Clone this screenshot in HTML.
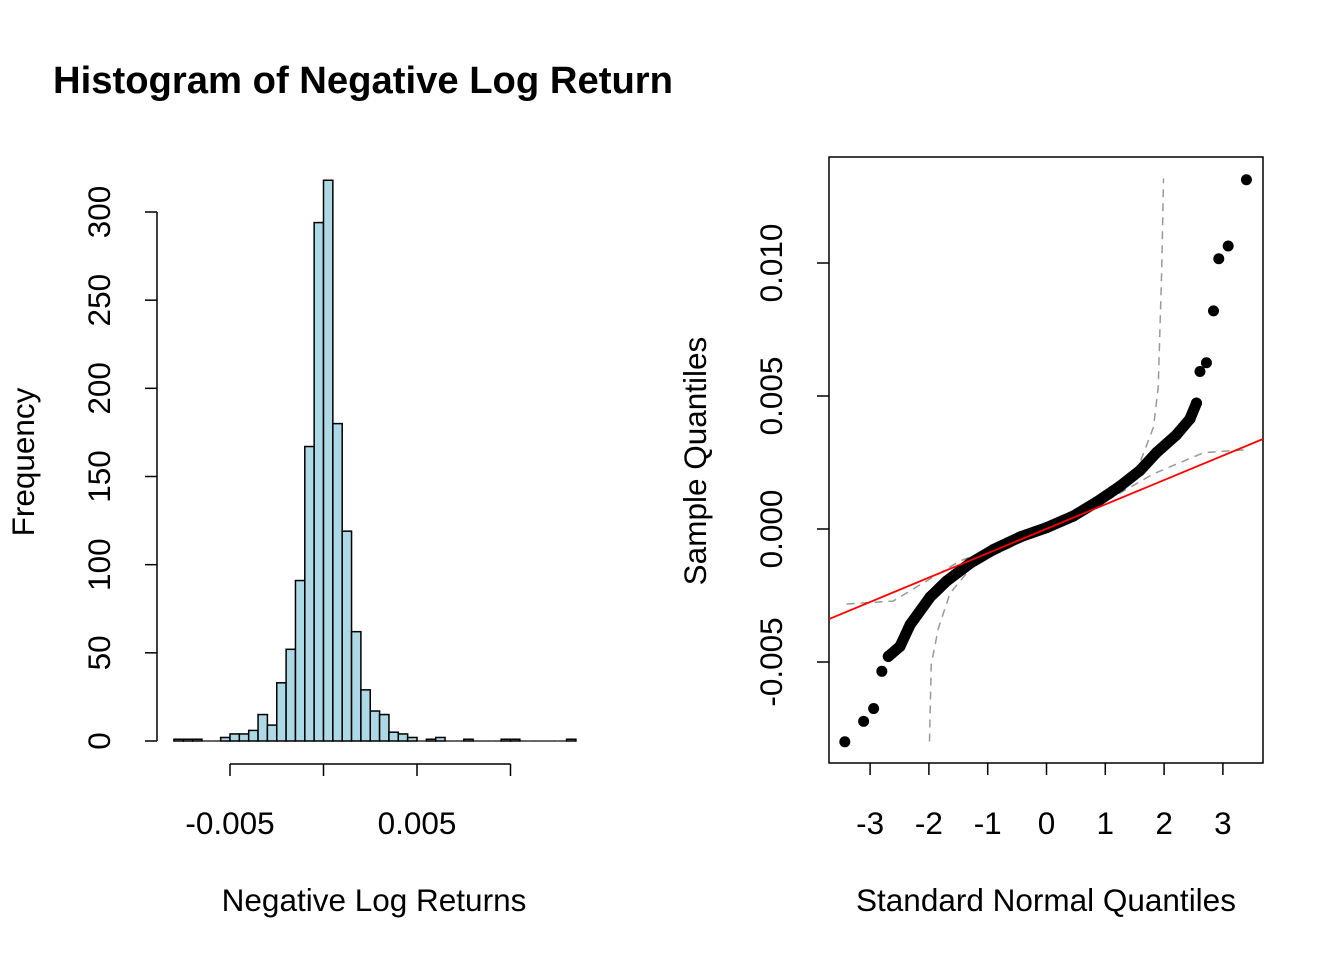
<!DOCTYPE html>
<html><head><meta charset="utf-8"><style>
html,body{margin:0;padding:0;background:#fff;}
svg{display:block;font-family:"Liberation Sans",Arial,sans-serif;}
</style></head><body>
<svg id="chart" width="1344" height="960" viewBox="0 0 1344 960">
<text x="53" y="93" font-size="38" font-weight="bold" textLength="620" lengthAdjust="spacingAndGlyphs">Histogram of Negative Log Return</text>
<g id="hist"></g>
<g id="qq"></g>
</svg>
<script>
// Histogram data
const binStart = -0.008;
const binWidth = 0.0005;
const counts = [1,1,1,0,0,2,4,4,6,15,9,33,52,91,167,294,318,180,119,62,29,17,15,5,4,2,0,1,2,0,0,1,0,0,0,1,1,0,0,0,0,0,1];
const freqTicks = [0,50,100,150,200,250,300];
const xTicks = [-0.005,0,0.005,0.01];
const xTickLabels = ["-0.005","","0.005",""];
// QQ data
const lowQ = [-3.43,-3.11,-2.94,-2.80,-2.69];
const lowV = [-0.0080,-0.00723,-0.00675,-0.00535,-0.00479];
const bodyQ = [-2.69,-2.49,-2.32,-1.98,-1.70,-1.30,-0.90,-0.45,0,0.46,0.85,1.25,1.59,1.87,2.21,2.44,2.55];
const bodyV = [-0.00479,-0.00441,-0.0036,-0.00256,-0.00196,-0.00129,-0.00077,-0.0003,0.00005,0.00049,0.00101,0.00161,0.0022,0.00287,0.00354,0.00414,0.00473];
const highQ = [2.55,2.61,2.72,2.84,2.93,3.09,3.40];
const highV = [0.00473,0.00592,0.00625,0.0082,0.01016,0.01064,0.01313];
const envAQ = [-3.40,-2.61,-1.47,0,1.25,1.59,1.82,1.90,1.96,1.99];
const envAV = [-0.00282,-0.00271,-0.0012,0.00003,0.00147,0.0025,0.00383,0.00534,0.00979,0.01318];
const envBQ = [-1.99,-1.96,-1.84,-1.64,-1.24,0,0.68,1.82,2.67,3.40];
const envBV = [-0.00799,-0.00508,-0.00374,-0.00241,-0.00135,-0.00003,0.00064,0.00207,0.00287,0.00298];
const lineSlope = 0.000917;
const lineIntercept = 0.0000067;
const qqXTicks = [-3,-2,-1,0,1,2,3];
const qqYTicks = [-0.005,0,0.005,0.01];
const qqYLabels = ["-0.005","0.000","0.005","0.010"];

const FS = 31.5;
const NS = "http://www.w3.org/2000/svg";
function mk(parent, tag, attrs, txt){
  const e = document.createElementNS(NS, tag);
  for (const k in attrs) e.setAttribute(k, attrs[k]);
  if (txt !== undefined) e.textContent = txt;
  parent.appendChild(e); return e;
}
// Histogram axes
const hx = v => 323.5 + v / 0.001 * 18.7;
const hy = c => 741 - c * (529 / 300);
const H = document.getElementById('hist');
counts.forEach((c, i) => {
  const x0 = hx(binStart + i * binWidth), x1 = hx(binStart + (i + 1) * binWidth);
  let r;
  if (c === 0) {
    r = mk(H, 'line', {x1: x0, x2: x1, y1: hy(0), y2: hy(0), stroke: '#000', 'stroke-width': 1.2});
  } else {
    r = mk(H, 'rect', {x: x0, y: hy(c), width: x1 - x0, height: hy(0) - hy(c), fill: '#add8e6', stroke: '#000', 'stroke-width': 1.5});
  }
  
  
});
let ya = mk(H, 'line', {x1: 157, x2: 157, y1: hy(0), y2: hy(300), stroke: '#000', 'stroke-width': 1.5});


freqTicks.forEach(t => {
  mk(H, 'line', {x1: 145, x2: 157, y1: hy(t), y2: hy(t), stroke: '#000', 'stroke-width': 1.5});
  const l = mk(H, 'text', {x: 110, y: hy(t), 'font-size': FS, 'text-anchor': 'middle', transform: `rotate(-90 110 ${hy(t)})`}, String(t));
  
  
});
let xa = mk(H, 'line', {x1: hx(-0.005), x2: hx(0.01), y1: 764, y2: 764, stroke: '#000', 'stroke-width': 1.5});


xTicks.forEach((t, i) => {
  mk(H, 'line', {x1: hx(t), x2: hx(t), y1: 764, y2: 776, stroke: '#000', 'stroke-width': 1.5});
  if (xTickLabels[i]) {
    const l = mk(H, 'text', {x: hx(t), y: 834, 'font-size': FS, 'text-anchor': 'middle'}, xTickLabels[i]);
    
    
  }
});
let fl = mk(H, 'text', {x: 34, y: 462, 'font-size': FS, 'text-anchor': 'middle', transform: 'rotate(-90 34 462)'}, 'Frequency');


let xl = mk(H, 'text', {x: 374, y: 911, 'font-size': FS, 'text-anchor': 'middle'}, 'Negative Log Returns');



// QQ plot
const qx = q => 1046.5 + q * 58.8;
const qy = v => 529 - v / 0.005 * 133;
const Q = document.getElementById('qq');
let box = mk(Q, 'rect', {x: 829, y: 157, width: 434, height: 606, fill: 'none', stroke: '#000', 'stroke-width': 1.5});


const defs = mk(Q, 'defs', {});
const cp = mk(defs, 'clipPath', {id: 'qclip'});
mk(cp, 'rect', {x: 829, y: 157, width: 434, height: 606});
function pts(qs, vs){ return qs.map((q, i) => qx(q) + ',' + qy(vs[i])).join(' '); }
let env1 = mk(Q, 'polyline', {points: pts(envAQ, envAV), fill: 'none', stroke: '#999', 'stroke-width': 1.5, 'stroke-dasharray': '8,6'});


let env2 = mk(Q, 'polyline', {points: pts(envBQ, envBV), fill: 'none', stroke: '#999', 'stroke-width': 1.5, 'stroke-dasharray': '8,6'});


let band = mk(Q, 'polyline', {points: pts(bodyQ, bodyV), fill: 'none', stroke: '#000', 'stroke-width': 11, 'stroke-linecap': 'round', 'stroke-linejoin': 'round'});


lowQ.concat(bodyQ, highQ).forEach((q, i) => {
  const v = lowV.concat(bodyV, highV)[i];
  const c = mk(Q, 'circle', {cx: qx(q), cy: qy(v), r: 5.5, fill: '#000'});
  
  
});
let rl = mk(Q, 'line', {x1: 829, x2: 1263, y1: qy(lineIntercept + lineSlope * (829 - 1046.5) / 58.8), y2: qy(lineIntercept + lineSlope * (1263 - 1046.5) / 58.8), stroke: '#f00', 'stroke-width': 1.8, 'clip-path': 'url(#qclip)'});


qqXTicks.forEach(t => {
  mk(Q, 'line', {x1: qx(t), x2: qx(t), y1: 763, y2: 775, stroke: '#000', 'stroke-width': 1.5});
  const l = mk(Q, 'text', {x: qx(t), y: 834, 'font-size': FS, 'text-anchor': 'middle'}, String(t));
  
  
});
qqYTicks.forEach((t, i) => {
  mk(Q, 'line', {x1: 817, x2: 829, y1: qy(t), y2: qy(t), stroke: '#000', 'stroke-width': 1.5});
  const l = mk(Q, 'text', {x: 782, y: qy(t), 'font-size': FS, 'text-anchor': 'middle', transform: `rotate(-90 782 ${qy(t)})`}, qqYLabels[i]);
  
  
});
let sq = mk(Q, 'text', {x: 706, y: 461, 'font-size': FS, 'text-anchor': 'middle', transform: 'rotate(-90 706 461)'}, 'Sample Quantiles');


let nq = mk(Q, 'text', {x: 1046, y: 911, 'font-size': FS, 'text-anchor': 'middle'}, 'Standard Normal Quantiles');


</script>
</body></html>
